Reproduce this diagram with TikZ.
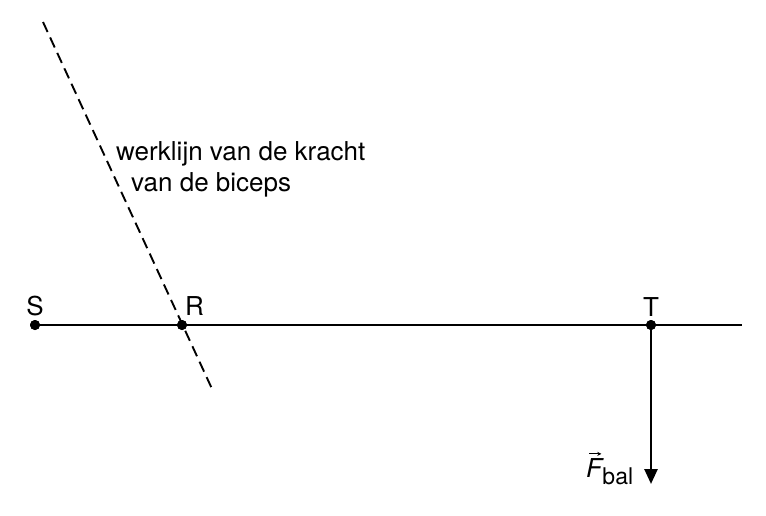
\documentclass[tikz,border=0pt]{standalone}
\usepackage{fontspec}
\setmainfont{TeX Gyre Heros}
\usetikzlibrary{arrows.meta}
\begin{document}
\begin{tikzpicture}[x=1pt,y=-1pt,
  lbl/.style={font=\fontsize{26}{30}\selectfont, inner sep=0pt},
  sub/.style={font=\fontsize{23}{28}\selectfont, inner sep=0pt},
  pt/.style={circle, fill=black, inner sep=0pt, minimum size=10pt},
  beam/.style={line width=2.4pt},
  force/.style={line width=2.6pt, -{Triangle[length=15pt,width=13pt]}},
  vecarrow/.style={line width=1pt, -{Stealth[length=4pt,width=4pt]}},
  wline/.style={line width=1.9pt, dash pattern=on 11pt off 6pt}]
\useasboundingbox (0,0) rectangle (766,515);
\node[pt] (S) at (35,325) {};
\node[pt] (R) at (182,325) {};
\node[pt] (T) at (651,325) {};
\coordinate (E) at (742,325);
\coordinate (D1) at (43,22);
\coordinate (D2) at (213,391);
\coordinate (Fend) at (651,484);
\draw[beam] (S.center) -- (E);
\draw[wline] (D1) -- (D2);
\draw[force] (T.center) -- (Fend);
\node[pt] at (S) {};
\node[pt] at (R) {};
\node[pt] at (T) {};
\node[lbl, anchor=base] (Sl) at (35,315) {S};
\node[lbl, anchor=base west] (Rl) at (185,315) {R};
\node[lbl, anchor=base] (Tl) at (651,316) {T};
\node[lbl, anchor=base west] (w1) at (116,160) {werklijn van de kracht};
\node[lbl, anchor=base west] (w2) at (131,191) {van de biceps};
\node[lbl, anchor=base west] (F) at (586,477) {\itshape F};
\node[sub, anchor=base west] (bal) at (F.base east) [yshift=-7pt] {bal};
\coordinate (va) at ([xshift=3pt,yshift=4pt]F.north west);
\coordinate (vb) at ([xshift=-1pt,yshift=4pt]F.north east);
\draw[vecarrow] (va) -- (vb);
\end{tikzpicture}
\end{document}
